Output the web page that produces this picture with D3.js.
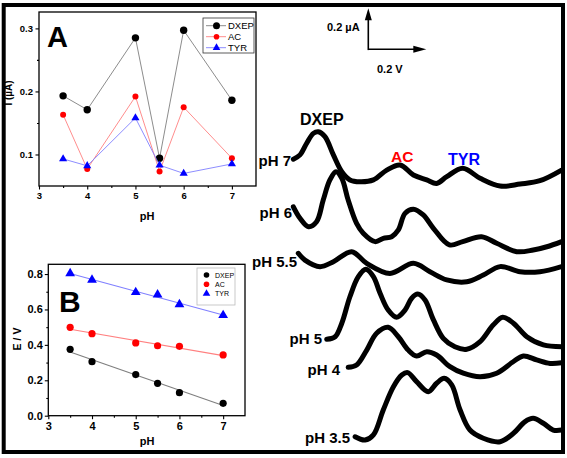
<!DOCTYPE html>
<html><head><meta charset="utf-8">
<script src="https://cdn.jsdelivr.net/npm/d3@7"></script>
<style>body{margin:0;background:#fff} text{font-family:"Liberation Sans",Arial,sans-serif}</style>
</head><body><svg id="c" width="567" height="458"></svg>
<script>
// ---- data ----
const pHValues = [3.5, 4, 5, 5.5, 6, 7];
const currentDXEP = [0.193, 0.171, 0.285, 0.094, 0.297, 0.186];
const currentAC   = [0.163, 0.077, 0.192, 0.073, 0.175, 0.094];
const currentTYR  = [0.093, 0.082, 0.158, 0.083, 0.070, 0.085];
const potDXEP = [0.375, 0.305, 0.232, 0.183, 0.130, 0.070];
const potAC   = [0.499, 0.463, 0.411, 0.395, 0.392, 0.343];
const potTYR  = [0.804, 0.767, 0.697, 0.684, 0.629, 0.567];
const seriesNames = ["DXEP", "AC", "TYR"];
const xTickLabels = [3, 4, 5, 6, 7];
const yTicksA = [0.1, 0.2, 0.3];
const yTicksB = [0.0, 0.2, 0.4, 0.6, 0.8];

// DPV curves: [potential (V), stacked current (µA)]
const dpv_pH7 = [[-0.016,1.438],[0.007,1.459],[0.030,1.516],[0.053,1.564],[0.070,1.572],[0.093,1.548],[0.122,1.459],[0.151,1.377],[0.179,1.337],[0.214,1.328],[0.260,1.337],[0.306,1.385],[0.352,1.410],[0.398,1.361],[0.444,1.337],[0.478,1.320],[0.513,1.353],[0.568,1.394],[0.628,1.345],[0.697,1.307],[0.766,1.317],[0.834,1.333],[0.909,1.385]];
const dpv_pH6 = [[-0.016,1.206],[0.007,1.150],[0.036,1.109],[0.064,1.133],[0.087,1.239],[0.110,1.337],[0.131,1.377],[0.151,1.345],[0.173,1.239],[0.202,1.125],[0.225,1.077],[0.266,1.036],[0.294,1.052],[0.323,1.060],[0.346,1.093],[0.369,1.174],[0.398,1.194],[0.432,1.166],[0.467,1.101],[0.522,1.020],[0.568,1.036],[0.633,1.060],[0.685,1.028],[0.754,0.987],[0.811,0.995],[0.858,1.011],[0.909,1.036]];
const dpv_pH55 = [[0.001,0.979],[0.024,0.946],[0.076,0.914],[0.122,0.938],[0.185,0.987],[0.237,0.930],[0.317,0.881],[0.398,0.930],[0.455,0.889],[0.513,0.849],[0.582,0.840],[0.639,0.873],[0.697,0.914],[0.766,0.889],[0.834,0.889],[0.909,0.914]];
const dpv_pH5 = [[0.099,0.560],[0.128,0.572],[0.151,0.638],[0.179,0.767],[0.208,0.865],[0.234,0.901],[0.260,0.865],[0.283,0.784],[0.311,0.702],[0.340,0.667],[0.369,0.702],[0.392,0.760],[0.413,0.780],[0.438,0.751],[0.467,0.654],[0.501,0.564],[0.541,0.523],[0.582,0.511],[0.628,0.548],[0.673,0.629],[0.706,0.667],[0.743,0.638],[0.789,0.572],[0.846,0.532],[0.909,0.523]];
const dpv_pH4 = [[0.173,0.423],[0.202,0.434],[0.237,0.507],[0.271,0.589],[0.311,0.618],[0.346,0.572],[0.380,0.507],[0.409,0.478],[0.444,0.499],[0.478,0.483],[0.524,0.426],[0.570,0.394],[0.628,0.377],[0.685,0.394],[0.742,0.450],[0.777,0.478],[0.823,0.459],[0.869,0.442],[0.909,0.445]];
const dpv_pH35 = [[0.197,0.084],[0.231,0.068],[0.260,0.093],[0.294,0.215],[0.329,0.328],[0.358,0.385],[0.378,0.397],[0.409,0.353],[0.449,0.304],[0.478,0.345],[0.504,0.369],[0.530,0.337],[0.559,0.215],[0.593,0.117],[0.639,0.077],[0.697,0.060],[0.743,0.101],[0.783,0.158],[0.811,0.174],[0.846,0.150],[0.880,0.117],[0.909,0.117]];
const curveLabels = ["pH 7", "pH 6", "pH 5.5", "pH 5", "pH 4", "pH 3.5"];

// ---- drawing ----
const svg = d3.select("#c");
const colors = {DXEP:"#000", AC:"#ff0000", TYR:"#0000ff"};
const lineColors = {DXEP:"#7f7f7f", AC:"#ff8080", TYR:"#8080ff"};
const FONT = '"Liberation Sans",Arial,sans-serif';

function marker(g, name, x, y, r) {
  if (name === "TYR") {
    g.append("path").attr("d", d3.symbol(d3.symbolTriangle, r*r*3.2)())
      .attr("transform", `translate(${x},${y})`).attr("fill", colors[name]);
  } else {
    g.append("circle").attr("cx", x).attr("cy", y).attr("r", r).attr("fill", colors[name]);
  }
}

function styleAxis(g, fs) {
  g.selectAll("path").remove();
  g.selectAll("line").attr("stroke", "#000").attr("stroke-width", 1.1);
  g.selectAll("text").attr("font-family", FONT).attr("font-weight", "bold").attr("font-size", fs).attr("fill", "#000");
}

// Panel A
const xA = d3.scaleLinear().domain([3, 7.5]).range([39, 256]);
const yA = d3.scaleLinear().domain([0.05, 0.326]).range([186, 12]);
const gA = svg.append("g");
gA.append("g").attr("transform", "translate(0,186)")
  .call(d3.axisBottom(xA).tickValues([3.5,4.5,5.5,6.5]).tickSize(2).tickFormat(""))
  .call(g => styleAxis(g, 9.5));
gA.append("g").attr("transform", "translate(0,186)")
  .call(d3.axisBottom(xA).tickValues(xTickLabels).tickSize(3.5).tickPadding(2.5).tickFormat(d3.format("d")))
  .call(g => styleAxis(g, 9.5));
gA.append("g").attr("transform", "translate(39,0)")
  .call(d3.axisLeft(yA).tickValues([0.15,0.25]).tickSize(2).tickFormat(""))
  .call(g => styleAxis(g, 9.5));
gA.append("g").attr("transform", "translate(39,0)")
  .call(d3.axisLeft(yA).tickValues(yTicksA).tickSize(3.5).tickPadding(2.5).tickFormat(d3.format(".1f")))
  .call(g => styleAxis(g, 9.5));
gA.append("rect").attr("x", 39).attr("y", 12).attr("width", 217).attr("height", 174)
  .attr("fill", "none").attr("stroke", "#000").attr("stroke-width", 1.3);
const seriesA = {DXEP: currentDXEP, AC: currentAC, TYR: currentTYR};
seriesNames.forEach(n => {
  const pts = pHValues.map((p, i) => [p, seriesA[n][i]]);
  gA.append("path").attr("d", d3.line().x(d => xA(d[0])).y(d => yA(d[1]))(pts))
    .attr("fill", "none").attr("stroke", lineColors[n]).attr("stroke-width", 0.9);
  pts.forEach(d => marker(gA, n, xA(d[0]), yA(d[1]), n === "DXEP" ? 3.7 : 3));
});
gA.append("text").attr("x", 47).attr("y", 47).attr("font-size", 29).attr("font-weight", "bold").text("A");
gA.append("text").attr("transform", "translate(12,93) rotate(-90)").attr("text-anchor", "middle")
  .attr("font-size", 10).attr("font-weight", "bold").text("I (µA)");
gA.append("text").attr("x", 147).attr("y", 220).attr("text-anchor", "middle")
  .attr("font-size", 11).attr("font-weight", "bold").text("pH");
// legend A
gA.append("rect").attr("x", 203).attr("y", 18).attr("width", 51).attr("height", 35)
  .attr("fill", "#fff").attr("stroke", "#333").attr("stroke-width", 0.8);
seriesNames.forEach((n, i) => {
  const y = 25.7 + i * 11;
  gA.append("line").attr("x1", 206).attr("x2", 226).attr("y1", y).attr("y2", y)
    .attr("stroke", lineColors[n]).attr("stroke-width", 0.9);
  marker(gA, n, 216.5, y, n === "DXEP" ? 3.5 : 2.8);
  gA.append("text").attr("x", 228).attr("y", y + 3.4).attr("font-size", 9.5).text(n);
});

// Panel B
const xB = d3.scaleLinear().domain([3, 7.5]).range([48.3, 245]);
const yB = d3.scaleLinear().domain([0, 0.855]).range([415.7, 264.3]);
const gB = svg.append("g");
gB.append("g").attr("transform", "translate(0,415.7)")
  .call(d3.axisBottom(xB).tickValues([3.5,4.5,5.5,6.5]).tickSize(2).tickFormat(""))
  .call(g => styleAxis(g, 11));
gB.append("g").attr("transform", "translate(0,415.7)")
  .call(d3.axisBottom(xB).tickValues(xTickLabels).tickSize(3.5).tickPadding(3).tickFormat(d3.format("d")))
  .call(g => styleAxis(g, 11));
gB.append("g").attr("transform", "translate(48.3,0)")
  .call(d3.axisLeft(yB).tickValues([0.1,0.3,0.5,0.7]).tickSize(2).tickFormat(""))
  .call(g => styleAxis(g, 11));
gB.append("g").attr("transform", "translate(48.3,0)")
  .call(d3.axisLeft(yB).tickValues(yTicksB).tickSize(3.5).tickPadding(2).tickFormat(d3.format(".1f")))
  .call(g => styleAxis(g, 11));
gB.append("rect").attr("x", 48.3).attr("y", 264.3).attr("width", 196.7).attr("height", 151.4)
  .attr("fill", "none").attr("stroke", "#000").attr("stroke-width", 1.3);
const seriesB = {DXEP: potDXEP, AC: potAC, TYR: potTYR};
seriesNames.forEach(n => {
  const pts = pHValues.map((p, i) => [p, seriesB[n][i]]);
  const reg = (() => {
    const mx = d3.mean(pts, d => d[0]), my = d3.mean(pts, d => d[1]);
    const b = d3.sum(pts, d => (d[0]-mx)*(d[1]-my)) / d3.sum(pts, d => (d[0]-mx)**2);
    return x => my + b * (x - mx);
  })();
  const xs = [pHValues[0], pHValues[pHValues.length-1]];
  gB.append("line").attr("x1", xB(xs[0])).attr("x2", xB(xs[1]))
    .attr("y1", yB(reg(xs[0]))).attr("y2", yB(reg(xs[1])))
    .attr("stroke", lineColors[n]).attr("stroke-width", 1.1);
  pts.forEach(d => marker(gB, n, xB(d[0]), yB(d[1]), 3.6));
});
gB.append("text").attr("x", 59).attr("y", 311.5).attr("font-size", 30).attr("font-weight", "bold").text("B");
gB.append("text").attr("transform", "translate(21,339) rotate(-90)").attr("text-anchor", "middle")
  .attr("font-size", 10.5).attr("font-weight", "bold").text("E / V");
gB.append("text").attr("x", 147).attr("y", 445).attr("text-anchor", "middle")
  .attr("font-size", 11).attr("font-weight", "bold").text("pH");
gB.append("rect").attr("x", 197).attr("y", 268).attr("width", 38).attr("height", 37)
  .attr("fill", "#fff").attr("stroke", "#bbb").attr("stroke-width", 0.8);
seriesNames.forEach((n, i) => {
  const y = 275 + i * 9.3;
  marker(gB, n, 206.5, y, 2.8);
  gB.append("text").attr("x", 215).attr("y", y + 2.5).attr("font-size", 7).text(n);
});

// Right: DPV curves
const xE = d3.scaleLinear().domain([0, 0.9]).range([298, 559]);
const yI = d3.scaleLinear().domain([0, 2.2]).range([454, 3]);
svg.append("clipPath").attr("id", "clipR").append("rect")
  .attr("x", 0).attr("y", 0).attr("width", 562).attr("height", 452);
const gC = svg.append("g").attr("clip-path", "url(#clipR)");
const dpvLine = d3.line().x(d => xE(d[0])).y(d => yI(d[1])).curve(d3.curveCatmullRom.alpha(0.5));
[dpv_pH7, dpv_pH6, dpv_pH55, dpv_pH5, dpv_pH4, dpv_pH35].forEach(c => {
  gC.append("path").attr("d", dpvLine(c)).attr("fill", "none").attr("stroke", "#000")
    .attr("stroke-width", 5).attr("stroke-linecap", "round").attr("stroke-linejoin", "round");
});
const labelPos = [[291,166],[292,218],[297,266.5],[322,344],[340,375],[350,443]];
curveLabels.forEach((t, i) => {
  svg.append("text").attr("x", labelPos[i][0]).attr("y", labelPos[i][1]).attr("text-anchor", "end")
    .attr("font-size", 15).attr("font-weight", "bold").text(t);
});
svg.append("text").attr("x", 300).attr("y", 125).attr("font-size", 16).attr("font-weight", "bold").text("DXEP");
svg.append("text").attr("x", 391).attr("y", 161.5).attr("font-size", 15.5).attr("font-weight", "bold").attr("fill", "#ff0000").text("AC");
svg.append("text").attr("x", 448).attr("y", 165).attr("font-size", 16).attr("font-weight", "bold").attr("fill", "#0000ff").text("TYR");

// scale bar
const ox = 368.3, oy = 49.3;
const hx = ox + (xE(0.2) - xE(0)), vy = oy - (yI(0) - yI(0.2));
svg.append("line").attr("x1", ox).attr("y1", oy).attr("x2", hx - 8).attr("y2", oy).attr("stroke", "#000").attr("stroke-width", 1.6);
svg.append("line").attr("x1", ox).attr("y1", oy + 0.8).attr("x2", ox).attr("y2", vy + 8).attr("stroke", "#000").attr("stroke-width", 1.6);
svg.append("path").attr("d", `M${hx},${oy} L${hx-13},${oy-3.5} L${hx-13},${oy+3.5} Z`).attr("fill", "#000");
svg.append("path").attr("d", `M${ox},${vy} L${ox-3.5},${vy+12} L${ox+3.5},${vy+12} Z`).attr("fill", "#000");
svg.append("text").attr("x", 327).attr("y", 31).attr("font-size", 11).attr("font-weight", "bold").text("0.2 µA");
svg.append("text").attr("x", 377).attr("y", 73).attr("font-size", 11).attr("font-weight", "bold").text("0.2 V");

// outer frame
svg.append("rect").attr("x", 3.7).attr("y", 5).attr("width", 559.3).attr("height", 447)
  .attr("fill", "none").attr("stroke", "#000").attr("stroke-width", 4);
</script></body></html>
